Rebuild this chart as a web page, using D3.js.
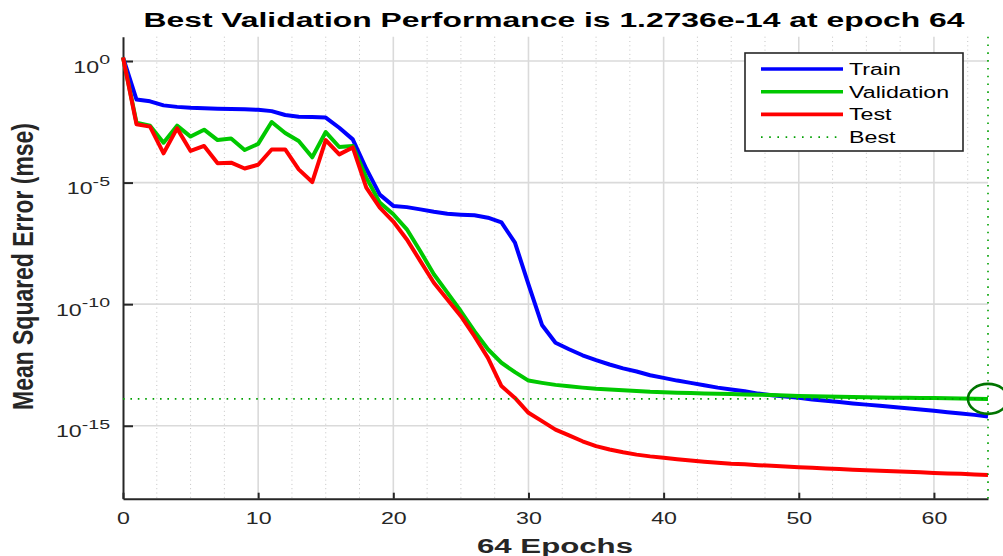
<html>
<head>
  <title>Best Validation Performance</title>
  <script src="https://d3js.org/d3.v7.min.js"></script>
  <style>
  body { margin: 0; background: #ffffff; }
  svg { display: block; font-family: "Liberation Sans", Arial, Helvetica, sans-serif; }
  </style>
</head>
<body>
  <div id="chart"></div>
  <script>

    // values (mse per epoch)
    var epochs = d3.range(0, 65);

    var train = [1.4, 2.6e-2, 2.2e-2, 1.5e-2, 1.3e-2, 1.2e-2, 1.15e-2, 1.1e-2, 1.07e-2, 1.05e-2,
      9.8e-3, 8.7e-3, 6.0e-3, 5.1e-3, 5.0e-3, 4.7e-3, 1.8e-3, 6.0e-4, 3.7e-5, 3.2e-6,
      1.1e-6, 9.8e-7, 7.9e-7, 6.3e-7, 5.2e-7, 4.8e-7, 4.5e-7, 3.6e-7, 2.3e-7, 3.4e-8,
      6.5e-10, 1.4e-11, 2.6e-12, 1.4e-12, 7.9e-13, 5.0e-13, 3.3e-13, 2.3e-13, 1.7e-13, 1.2e-13,
      9.3e-14, 7.2e-14, 5.8e-14, 4.6e-14, 3.7e-14, 3.1e-14, 2.6e-14, 2.1e-14, 1.8e-14, 1.6e-14,
      1.4e-14, 1.2e-14, 1.07e-14, 9.5e-15, 8.3e-15, 7.4e-15, 6.6e-15, 5.9e-15, 5.2e-15, 4.7e-15,
      4.1e-15, 3.6e-15, 3.2e-15, 2.8e-15, 2.4e-15];

    var validation = [1.4, 2.9e-3, 2.2e-3, 4.4e-4, 2.2e-3, 7.8e-4, 1.5e-3, 5.6e-4, 6.5e-4, 2.2e-4,
      3.9e-4, 3.1e-3, 1.1e-3, 5.1e-4, 1.1e-4, 1.2e-3, 2.9e-4, 3.2e-4, 1.6e-5, 1.5e-6,
      5.0e-7, 1.2e-7, 1.5e-8, 1.7e-9, 3.0e-10, 5.1e-11, 7.8e-12, 1.4e-12, 3.9e-13, 1.6e-13,
      7.2e-14, 5.8e-14, 4.8e-14, 4.2e-14, 3.7e-14, 3.3e-14, 3.1e-14, 2.9e-14, 2.7e-14, 2.5e-14,
      2.4e-14, 2.3e-14, 2.2e-14, 2.14e-14, 2.09e-14, 2.04e-14, 1.95e-14, 1.9e-14, 1.82e-14, 1.74e-14,
      1.66e-14, 1.62e-14, 1.58e-14, 1.55e-14, 1.51e-14, 1.48e-14, 1.45e-14, 1.43e-14, 1.41e-14, 1.39e-14,
      1.38e-14, 1.35e-14, 1.32e-14, 1.3e-14, 1.2736e-14];

    var test = [1.4, 2.5e-3, 2.0e-3, 1.6e-4, 1.7e-3, 2.0e-4, 3.2e-4, 6.2e-5, 6.6e-5, 3.8e-5,
      5.4e-5, 2.3e-4, 2.3e-4, 3.5e-5, 1.05e-5, 5.6e-4, 1.45e-4, 2.8e-4, 6.2e-6, 9.3e-7,
      2.5e-7, 4.6e-8, 5.9e-9, 7.6e-10, 1.55e-10, 3.2e-11, 4.8e-12, 6.2e-13, 4.3e-14, 1.4e-14,
      3.4e-15, 1.55e-15, 6.9e-16, 4.0e-16, 2.3e-16, 1.45e-16, 1.05e-16, 8.1e-17, 6.5e-17, 5.5e-17,
      4.8e-17, 4.2e-17, 3.7e-17, 3.3e-17, 3.0e-17, 2.75e-17, 2.6e-17, 2.4e-17, 2.24e-17, 2.1e-17,
      1.95e-17, 1.86e-17, 1.74e-17, 1.66e-17, 1.55e-17, 1.48e-17, 1.41e-17, 1.35e-17, 1.29e-17, 1.23e-17,
      1.15e-17, 1.1e-17, 1.05e-17, 1.0e-17, 9.5e-18];

    var bestEpoch = 64;
    var bestValue = 1.2736e-14;

    var xTicks = [0, 10, 20, 30, 40, 50, 60];
    var yTicks = [1e0, 1e-5, 1e-10, 1e-15];
    var yTickExp = ["0", "-5", "-10", "-15"];

    var seriesNames = ["Train", "Validation", "Test"];
    var seriesData = [train, validation, test];
    var seriesColors = ["#0000ff", "#00c800", "#ff0000"];

    var titleText = "Best Validation Performance is 1.2736e-14 at epoch 64";
    var xLabel = "64 Epochs";
    var yLabel = "Mean Squared Error  (mse)";

    var W = 1003, H = 556;
    var stretch = 1.45; // text in the picture is wider than normal

    var svg = d3.select("#chart").append("svg").attr("width", W).attr("height", H);

    var x = d3.scaleLinear().domain([0, 64]).range([123, 988]);
    var y = d3.scaleLog().domain([1e-18, 1e1]).range([498.7, 36.7]);

    // minor grid (dotted, every 2.5 epochs)
    var minor = d3.range(2.5, 64, 2.5).filter(function(d){ return d % 10 != 0; });
    svg.selectAll("line.minor").data(minor).enter().append("line")
      .attr("class", "minor")
      .attr("x1", function(d){ return x(d); }).attr("x2", function(d){ return x(d); })
      .attr("y1", y.range()[1]).attr("y2", y.range()[0])
      .attr("stroke", "#c4c4c4").attr("stroke-width", 1).attr("stroke-dasharray", "1,3.3");

    // major grid
    svg.selectAll("line.gx").data(xTicks.slice(1)).enter().append("line")
      .attr("class", "gx")
      .attr("x1", function(d){ return x(d); }).attr("x2", function(d){ return x(d); })
      .attr("y1", y.range()[1]).attr("y2", y.range()[0])
      .attr("stroke", "#dadada").attr("stroke-width", 1.6);
    svg.selectAll("line.gy").data(yTicks).enter().append("line")
      .attr("class", "gy")
      .attr("x1", x.range()[0]).attr("x2", x.range()[1])
      .attr("y1", function(d){ return y(d); }).attr("y2", function(d){ return y(d); })
      .attr("stroke", "#dadada").attr("stroke-width", 1.6);

    // axes
    var xAxis = svg.append("g").attr("transform", "translate(0," + y.range()[0] + ")")
      .call(d3.axisBottom(x).tickValues(xTicks).tickSizeInner(-6).tickSizeOuter(0));
    xAxis.select(".domain").attr("stroke", "#262626").attr("stroke-width", 2);
    xAxis.selectAll(".tick line").attr("stroke", "#262626").attr("stroke-width", 2);
    xAxis.selectAll(".tick text")
      .attr("y", 25.5).attr("dy", 0)
      .attr("font-size", 16).attr("fill", "#262626")
      .attr("font-family", "'Liberation Sans', Arial, sans-serif")
      .attr("transform", "scale(" + stretch + ",1)");

    var yAxis = svg.append("g").attr("transform", "translate(" + x.range()[0] + ",0)")
      .call(d3.axisLeft(y).tickValues(yTicks).tickSizeInner(-10).tickSizeOuter(0));
    yAxis.select(".domain").attr("stroke", "#262626").attr("stroke-width", 2);
    yAxis.selectAll(".tick line").attr("stroke", "#262626").attr("stroke-width", 2);
    yAxis.selectAll(".tick text").remove();
    yAxis.selectAll(".tick").each(function(d, i){
      var t = d3.select(this).append("text")
        .attr("x", -13 / stretch).attr("y", 11).attr("text-anchor", "end")
        .attr("font-size", 16).attr("fill", "#262626")
        .attr("font-family", "'Liberation Sans', Arial, sans-serif")
        .attr("transform", "scale(" + stretch + ",1)");
      t.append("tspan").text("10");
      t.append("tspan").attr("dy", -8.5).attr("font-size", 13.5).text(yTickExp[i]);
    });

    // series
    var line = d3.line()
      .x(function(d, i){ return x(epochs[i]); })
      .y(function(d){ return y(d); });

    seriesData.forEach(function(s, k){
      svg.append("path").datum(s)
        .attr("d", line)
        .attr("fill", "none")
        .attr("stroke", seriesColors[k])
        .attr("stroke-width", 4)
        .attr("stroke-linejoin", "round");
    });

    // best markers
    svg.append("line")
      .attr("x1", x.range()[0]).attr("x2", x.range()[1])
      .attr("y1", y(bestValue)).attr("y2", y(bestValue))
      .attr("stroke", "#00a000").attr("stroke-width", 1.6).attr("stroke-dasharray", "1.6,5.8");
    svg.append("line")
      .attr("x1", x(bestEpoch)).attr("x2", x(bestEpoch))
      .attr("y1", y.range()[1]).attr("y2", y.range()[0])
      .attr("stroke", "#00a000").attr("stroke-width", 1.6).attr("stroke-dasharray", "1.6,6.2");
    svg.append("ellipse")
      .attr("cx", x(bestEpoch)).attr("cy", y(bestValue))
      .attr("rx", 20).attr("ry", 15)
      .attr("fill", "none").attr("stroke", "#007400").attr("stroke-width", 2.6);

    // legend
    var lg = svg.append("g");
    lg.append("rect").attr("x", 745).attr("y", 53).attr("width", 218).attr("height", 98)
      .attr("fill", "#ffffff").attr("stroke", "#262626").attr("stroke-width", 1.6);
    var legendNames = seriesNames.concat(["Best"]);
    legendNames.forEach(function(name, i){
      var ly = 69 + i * 22.7;
      var l = lg.append("line").attr("x1", 761).attr("x2", 843).attr("y1", ly).attr("y2", ly);
      if (i < 3) {
        l.attr("stroke", seriesColors[i]).attr("stroke-width", 3.6);
      } else {
        l.attr("stroke", "#00a000").attr("stroke-width", 1.6).attr("stroke-dasharray", "1.6,6.6");
      }
      var t = lg.append("text").attr("x", 849).attr("y", ly + 6)
        .attr("font-size", 16).attr("fill", "#000000").text(name);
      t.attr("textLength", t.node().getComputedTextLength() * stretch)
        .attr("lengthAdjust", "spacingAndGlyphs");
    });

    // title and labels
    svg.append("text").attr("x", 554).attr("y", 26.5).attr("text-anchor", "middle")
      .attr("font-size", 20).attr("font-weight", "bold").attr("fill", "#000000")
      .attr("textLength", 821).attr("lengthAdjust", "spacingAndGlyphs")
      .text(titleText);

    svg.append("text").attr("x", 555).attr("y", 552.5).attr("text-anchor", "middle")
      .attr("font-size", 20).attr("font-weight", "bold").attr("fill", "#262626")
      .attr("textLength", 156).attr("lengthAdjust", "spacingAndGlyphs")
      .text(xLabel);

    svg.append("text")
      .attr("transform", "translate(33,266.5) scale(" + stretch + ",1) rotate(-90)")
      .attr("text-anchor", "middle")
      .attr("font-size", 20.5).attr("font-weight", "bold").attr("fill", "#262626")
      .attr("textLength", 287).attr("lengthAdjust", "spacingAndGlyphs")
      .text(yLabel);

  </script>
</body>
</html>
